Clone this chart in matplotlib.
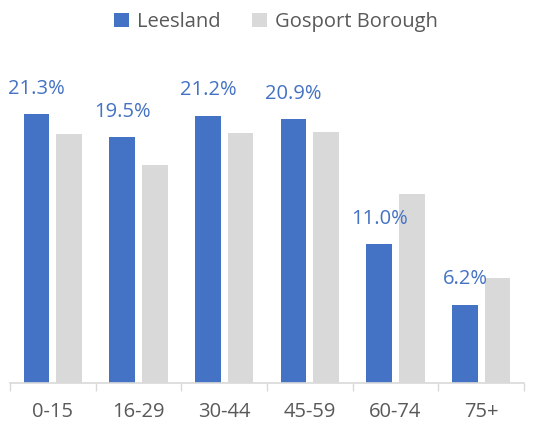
import matplotlib.pyplot as plt
import numpy as np

plt.rcParams["font.family"] = ["Open Sans", "DejaVu Sans"]

# age bands and shares (%)
age_bands = ["0-15", "16-29", "30-44", "45-59", "60-74", "75+"]
leesland = [21.3, 19.5, 21.2, 20.9, 11.0, 6.2]
gosport = [19.7, 17.3, 19.8, 19.9, 15.0, 8.3]

BLUE = "#4472C4"
GREY = "#D9D9D9"
TEXT = "#595959"

fig = plt.figure(figsize=(5.52, 4.30), dpi=100)
ax = fig.add_axes([10 / 552, 47 / 430, 514 / 552, 323 / 430])

x = np.arange(len(age_bands))
w = 0.30
gap = 0.08
b1 = ax.bar(x - (w + gap) / 2, leesland, w, color=BLUE, label="Leesland")
b2 = ax.bar(x + (w + gap) / 2, gosport, w, color=GREY, label="Gosport Borough")

for rect, v in zip(b1, leesland):
    ax.annotate(f"{v:.1f}%", (rect.get_x() + rect.get_width() / 2, rect.get_height()),
                xytext=(0, 11), textcoords="offset points", ha="center", va="bottom",
                color=BLUE, fontsize=14.5)

ax.set_xlim(-0.5, len(age_bands) - 0.5)
ax.set_ylim(0, 25.6)
ax.set_xticks(x)
ax.set_xticklabels(age_bands, fontsize=14.5, color=TEXT)
ax.set_xticks(np.arange(-0.5, len(age_bands)), minor=True)
ax.tick_params(axis="x", which="major", length=0, pad=14)
ax.tick_params(axis="x", which="minor", length=6, color=GREY, width=1)
ax.set_yticks([])
for s in ["top", "right", "left"]:
    ax.spines[s].set_visible(False)
ax.spines["bottom"].set_color(GREY)
ax.spines["bottom"].set_linewidth(1.2)

fig.legend(handles=[b1, b2], loc="upper center", bbox_to_anchor=(0.5, 1.015), ncol=2,
           frameon=False, fontsize=14.5, labelcolor=TEXT, handlelength=0.7,
           handleheight=0.7, handletextpad=0.4, columnspacing=1.6)

fig.savefig("out.png", dpi=100)
